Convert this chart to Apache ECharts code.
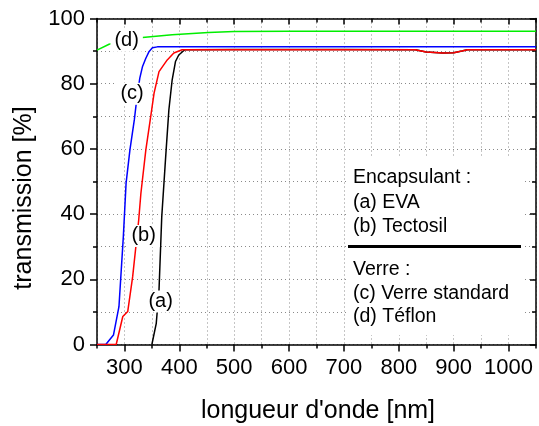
<!DOCTYPE html>
<html>
<head>
<meta charset="utf-8">
<script src="https://cdn.jsdelivr.net/npm/echarts@6/dist/echarts.min.js"></script>
<style>
  html, body { margin: 0; padding: 0; background: #fff; }
  #chartMount { width: 539px; height: 426px; }
</style>
</head>
<body>
<div id="chartMount"></div>
<script>
  // données (longueur d'onde en nm, transmission en %)
  var wlA = [350, 358, 363, 368, 374, 376, 381, 387, 393, 399, 410, 500, 600, 700, 830, 850, 880, 900, 915, 925, 1050];
  var trA = [0, 6.5, 16.7, 39.2, 54.6, 59.7, 72, 81.2, 86.8, 88.8, 90.4, 90.5, 90.5, 90.5, 90.4, 89.7, 89.4, 89.5, 90.0, 90.4, 90.4];

  var wlB = [250, 285, 297, 306, 315, 326, 330, 339, 347, 354, 363, 378, 390, 405, 500, 600, 700, 830, 850, 880, 900, 915, 925, 1050];
  var trB = [0, 0, 8.6, 10.1, 20.8, 38.2, 46.4, 59.7, 68.9, 77.1, 83.7, 87.3, 89.4, 90.4, 90.4, 90.4, 90.4, 90.4, 89.7, 89.4, 89.5, 90.0, 90.4, 90.4];

  var wlC = [250, 266, 280, 290, 298, 303, 310, 318, 323, 328, 333, 339, 345, 351, 360, 500, 700, 900, 1050];
  var trC = [0, 0, 2.9, 11.6, 33.1, 49.5, 59.7, 68.9, 76, 81.7, 85.3, 87.8, 89.9, 91.0, 91.3, 91.3, 91.3, 91.3, 91.3];

  var wlD = [250, 272, 300, 333, 387, 453, 500, 600, 800, 1050];
  var trD = [90.3, 92.1, 93.2, 94.2, 95.0, 95.7, 96.0, 96.1, 96.1, 96.1];

  var xMajorTicks = [300, 400, 500, 600, 700, 800, 900, 1000];
  var yMajorTicks = [0, 20, 40, 60, 80, 100];

  var labelX = [366, 335, 314, 304];
  var labelY = [13.2, 33.3, 76.9, 93.2];
  var labelText = ['(a)', '(b)', '(c)', '(d)'];

  var app = echarts.init(document.getElementById('chartMount'));
  var police = 'Liberation Sans, Arial, sans-serif';

  function pairs(xs, ys) {
    var d = [];
    for (var i = 0; i < xs.length; i++) {
      d.push([xs[i], ys[i]]);
    }
    return d;
  }

  var annot = [];
  for (var i = 0; i < labelX.length; i++) {
    annot.push([labelX[i], labelY[i], labelText[i]]);
  }

  var lineNoir = { color: '#000', width: 1.5 };

  // axe de base + axes superposés pour les graduations longues/courtes
  function xAx(pos, opts) {
    var a = {
      type: 'value', position: pos, min: 250, max: 1050, interval: 50,
      axisLine: { show: false, onZero: false, lineStyle: lineNoir },
      axisTick: { show: false },
      axisLabel: { show: false },
      splitLine: { show: false }
    };
    for (var k in opts) a[k] = opts[k];
    return a;
  }
  function yAx(pos, opts) {
    var a = {
      type: 'value', position: pos, min: 0, max: 100, interval: 10,
      axisLine: { show: false, onZero: false, lineStyle: lineNoir },
      axisTick: { show: false },
      axisLabel: { show: false },
      splitLine: { show: false }
    };
    for (var k in opts) a[k] = opts[k];
    return a;
  }

  var option = {
    animation: false,
    backgroundColor: '#fff',
    grid: { left: 97, right: -2, top: 18.5, bottom: 81.5 },
    xAxis: [
      xAx('bottom', {
        axisLine: { show: true, onZero: false, lineStyle: lineNoir },
        axisTick: { show: true, length: 4, lineStyle: lineNoir },
        axisLabel: {
          show: true, margin: 12, color: '#000', fontFamily: police, fontSize: 22,
          formatter: function (v) { return v % 100 === 0 ? String(v) : ''; }
        },
        splitLine: { show: true, lineStyle: { color: '#8a8a8a', type: [1, 3], width: 1 } }
      }),
      xAx('bottom', { axisTick: { show: true, length: 7, customValues: xMajorTicks, lineStyle: lineNoir } }),
      xAx('top', {
        axisLine: { show: true, onZero: false, lineStyle: lineNoir },
        axisTick: { show: true, inside: true, length: 4, lineStyle: lineNoir }
      }),
      xAx('top', { axisTick: { show: true, inside: true, length: 6, customValues: xMajorTicks, lineStyle: lineNoir } })
    ],
    yAxis: [
      yAx('left', {
        axisLine: { show: true, onZero: false, lineStyle: lineNoir },
        axisTick: { show: true, length: 4, lineStyle: lineNoir },
        axisLabel: {
          show: true, margin: 12, color: '#000', fontFamily: police, fontSize: 22,
          formatter: function (v) { return v % 20 === 0 ? String(v) : ''; }
        },
        splitLine: { show: true, lineStyle: { color: '#8a8a8a', type: [1, 3], width: 1 } }
      }),
      yAx('left', { axisTick: { show: true, length: 7, customValues: yMajorTicks, lineStyle: lineNoir } }),
      yAx('right', {
        axisLine: { show: true, onZero: false, lineStyle: lineNoir },
        axisTick: { show: true, inside: true, length: 4, lineStyle: lineNoir }
      }),
      yAx('right', { axisTick: { show: true, inside: true, length: 6, customValues: yMajorTicks, lineStyle: lineNoir } })
    ],
    series: [
      { name: 'EVA', type: 'line', data: pairs(wlA, trA), showSymbol: false, symbol: 'none',
        lineStyle: { color: '#000', width: 1.5 }, z: 2 },
      { name: 'Verre standard', type: 'line', data: pairs(wlC, trC), showSymbol: false, symbol: 'none',
        lineStyle: { color: '#0000ff', width: 1.5 }, z: 3 },
      { name: 'Tectosil', type: 'line', data: pairs(wlB, trB), showSymbol: false, symbol: 'none',
        lineStyle: { color: '#ff0000', width: 1.5 }, z: 4 },
      { name: 'Téflon', type: 'line', data: pairs(wlD, trD), showSymbol: false, symbol: 'none',
        lineStyle: { color: '#00ee00', width: 1.5 }, z: 5 },
      { name: 'etiquettes', type: 'scatter', data: annot, symbolSize: 1, silent: true, z: 10,
        itemStyle: { color: '#fff', opacity: 1 },
        label: {
          show: true, position: 'inside', color: '#000', fontFamily: police, fontSize: 20,
          backgroundColor: '#fff', padding: [1, 4],
          formatter: function (p) { return p.value[2]; }
        }
      }
    ],
    graphic: [
      { type: 'rect', shape: { x: 346, y: 157, width: 176, height: 178 }, style: { fill: '#fff' }, z: 50 },
      { type: 'text', x: 353, y: 178, z: 51, style: { text: 'Encapsulant :', font: '19.5px ' + police, fill: '#000', verticalAlign: 'middle' } },
      { type: 'text', x: 353, y: 203, z: 51, style: { text: '(a) EVA', font: '19.5px ' + police, fill: '#000', verticalAlign: 'middle' } },
      { type: 'text', x: 353, y: 227, z: 51, style: { text: '(b) Tectosil', font: '19.5px ' + police, fill: '#000', verticalAlign: 'middle' } },
      { type: 'line', shape: { x1: 348, y1: 246.5, x2: 521, y2: 246.5 }, style: { stroke: '#000', lineWidth: 3 }, z: 51 },
      { type: 'text', x: 353, y: 270, z: 51, style: { text: 'Verre :', font: '19.5px ' + police, fill: '#000', verticalAlign: 'middle' } },
      { type: 'text', x: 353, y: 294, z: 51, style: { text: '(c) Verre standard', font: '19.5px ' + police, fill: '#000', verticalAlign: 'middle' } },
      { type: 'text', x: 353, y: 317, z: 51, style: { text: '(d) Téflon', font: '19.5px ' + police, fill: '#000', verticalAlign: 'middle' } },
      { type: 'text', x: 318, y: 411, z: 51, style: { text: "longueur d'onde [nm]", font: '25px ' + police, fill: '#000', align: 'center', verticalAlign: 'middle' } },
      { type: 'text', x: 24, y: 198, rotation: Math.PI / 2, z: 51, style: { text: 'transmission [%]', font: '25px ' + police, fill: '#000', align: 'center', verticalAlign: 'middle' } }
    ]
  };

  app.setOption(option);
</script>
</body>
</html>
